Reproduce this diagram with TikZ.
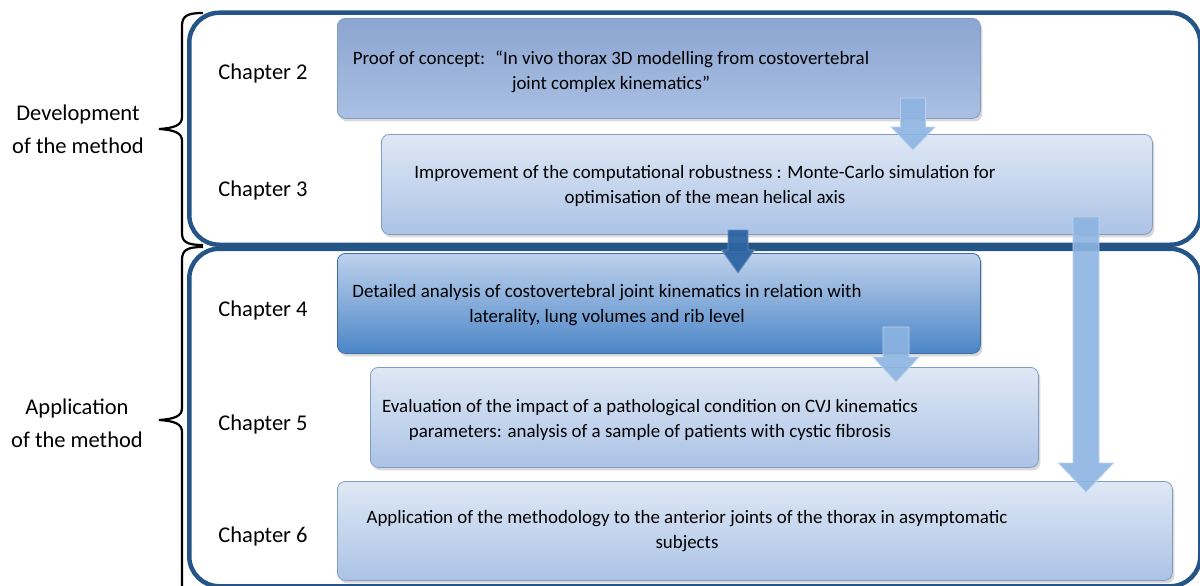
\documentclass[tikz,border=0pt]{standalone}
\usepackage{fontspec}
\setmainfont{Carlito}
\usetikzlibrary{shadows}

\definecolor{frameblue}{RGB}{37,85,135}
\definecolor{edgeblue}{RGB}{128,155,196}
\definecolor{paletop}{RGB}{222,232,245}
\definecolor{palebot}{RGB}{172,195,230}
\definecolor{dusktop}{RGB}{140,166,209}
\definecolor{duskbot}{RGB}{170,191,227}
\definecolor{deeptop}{RGB}{190,209,236}
\definecolor{deepbot}{RGB}{76,134,199}
\definecolor{arrowlight}{RGB}{141,180,226}
\definecolor{arrowdark}{RGB}{45,100,163}

% block arrow pointing down: style, x, top, head base, tip, shaft half, head half
\newcommand{\downblock}[7]{%
  \filldraw[#1] (#2-#6,#3) -- (#2+#6,#3) -- (#2+#6,#4) -- (#2+#7,#4)
    -- (#2,#5) -- (#2-#7,#4) -- (#2-#6,#4) -- cycle;}

\begin{document}
\begin{tikzpicture}[x=1pt,y=-1pt,
  chapter/.style={anchor=base,font=\fontsize{22.5}{27}\selectfont},
  side/.style={align=center,font=\fontsize{22.5}{33.4}\selectfont},
  frame/.style={draw=frameblue,line width=4.5pt,rounded corners=30pt,anchor=north west,inner sep=0pt},
  box/.style={draw=edgeblue,line width=0.8pt,rounded corners=8pt,anchor=north west,inner sep=0pt,
    minimum height=100pt,drop shadow={shadow xshift=2pt,shadow yshift=-3pt,opacity=0.3}},
  pale/.style={box,top color=paletop,bottom color=palebot},
  dusk/.style={box,top color=dusktop,bottom color=duskbot},
  deep/.style={box,draw=deepbot!80!black,top color=deeptop,bottom color=deepbot},
  boxtext/.style={anchor=base,align=center,font=\fontsize{18.9}{24.7}\selectfont},
  bracket/.style={line width=2.2pt},
  lightarrow/.style={fill=arrowlight,draw=arrowlight!60!white,fill opacity=0.9,line width=0.8pt},
  darkarrow/.style={fill=arrowdark,draw=arrowdark!70!white,fill opacity=0.95,line width=0.8pt}]

  \useasboundingbox (0,0) rectangle (1200,586);

  % the two parts
  \node[frame,minimum width=1011pt,minimum height=232pt] (devframe) at (187,10.5) {};
  \node[frame,minimum width=1011pt,minimum height=337.5pt] (appframe) at (187,246.5) {};

  \draw[bracket] (203,13) .. controls (187,13) and (182,16) .. (182,26) -- (182,117)
    .. controls (182,125) and (175,128) .. (159,129) .. controls (175,130) and (182,133) .. (182,141)
    -- (182,233) .. controls (182,242) and (187,245) .. (203,245);
  \draw[bracket] (203,247) .. controls (187,247) and (182,250) .. (182,260) -- (182,408)
    .. controls (182,416) and (175,419) .. (159,420) .. controls (175,421) and (182,424) .. (182,432)
    -- (182,590);
  \node[side] (devlabel) at (78,129) {Development\\of the method};
  \node[side] (applabel) at (77,423) {Application\\of the method};

  % chapters
  \foreach \c/\y in {2/80,3/196,4/316,5/430,6/542}
    \node[chapter] (ch\c) at (263,\y) {Chapter \c};

  % content boxes
  \node[dusk,minimum width=643pt] (b2) at (337,18) {};
  \node[pale,minimum width=771pt] (b3) at (381,134) {};
  \node[deep,minimum width=643pt] (b4) at (337,253) {};
  \node[pale,minimum width=668pt] (b5) at (370,367) {};
  \node[pale,minimum width=835pt,minimum height=99pt] (b6) at (337,481) {};

  \node[boxtext] (t2) at (611,89) {Proof of concept:~ “In vivo thorax 3D modelling from costovertebral\\joint complex kinematics”};
  \node[boxtext] (t3) at (705,203) {Improvement of the computational robustness : Monte-Carlo simulation for\\optimisation of the mean helical axis};
  \node[boxtext] (t4) at (607,322) {Detailed analysis of costovertebral joint kinematics in relation with\\laterality, lung volumes and rib level};
  \node[boxtext] (t5) at (650,437) {Evaluation of the impact of a pathological condition on CVJ kinematics\\parameters: analysis of a sample of patients with cystic fibrosis};
  \node[boxtext] (t6) at (687,548) {Application of the methodology to the anterior joints of the thorax in asymptomatic\\subjects};

  % arrows
  \downblock{lightarrow}{913}{98}{127}{150}{12.5}{22}
  \downblock{darkarrow}{738}{230}{250}{273}{10}{16.5}
  \downblock{lightarrow}{896}{327}{357}{382}{13}{23}
  \downblock{lightarrow}{1086}{217}{463}{492}{13}{27.5}

\end{tikzpicture}
\end{document}
